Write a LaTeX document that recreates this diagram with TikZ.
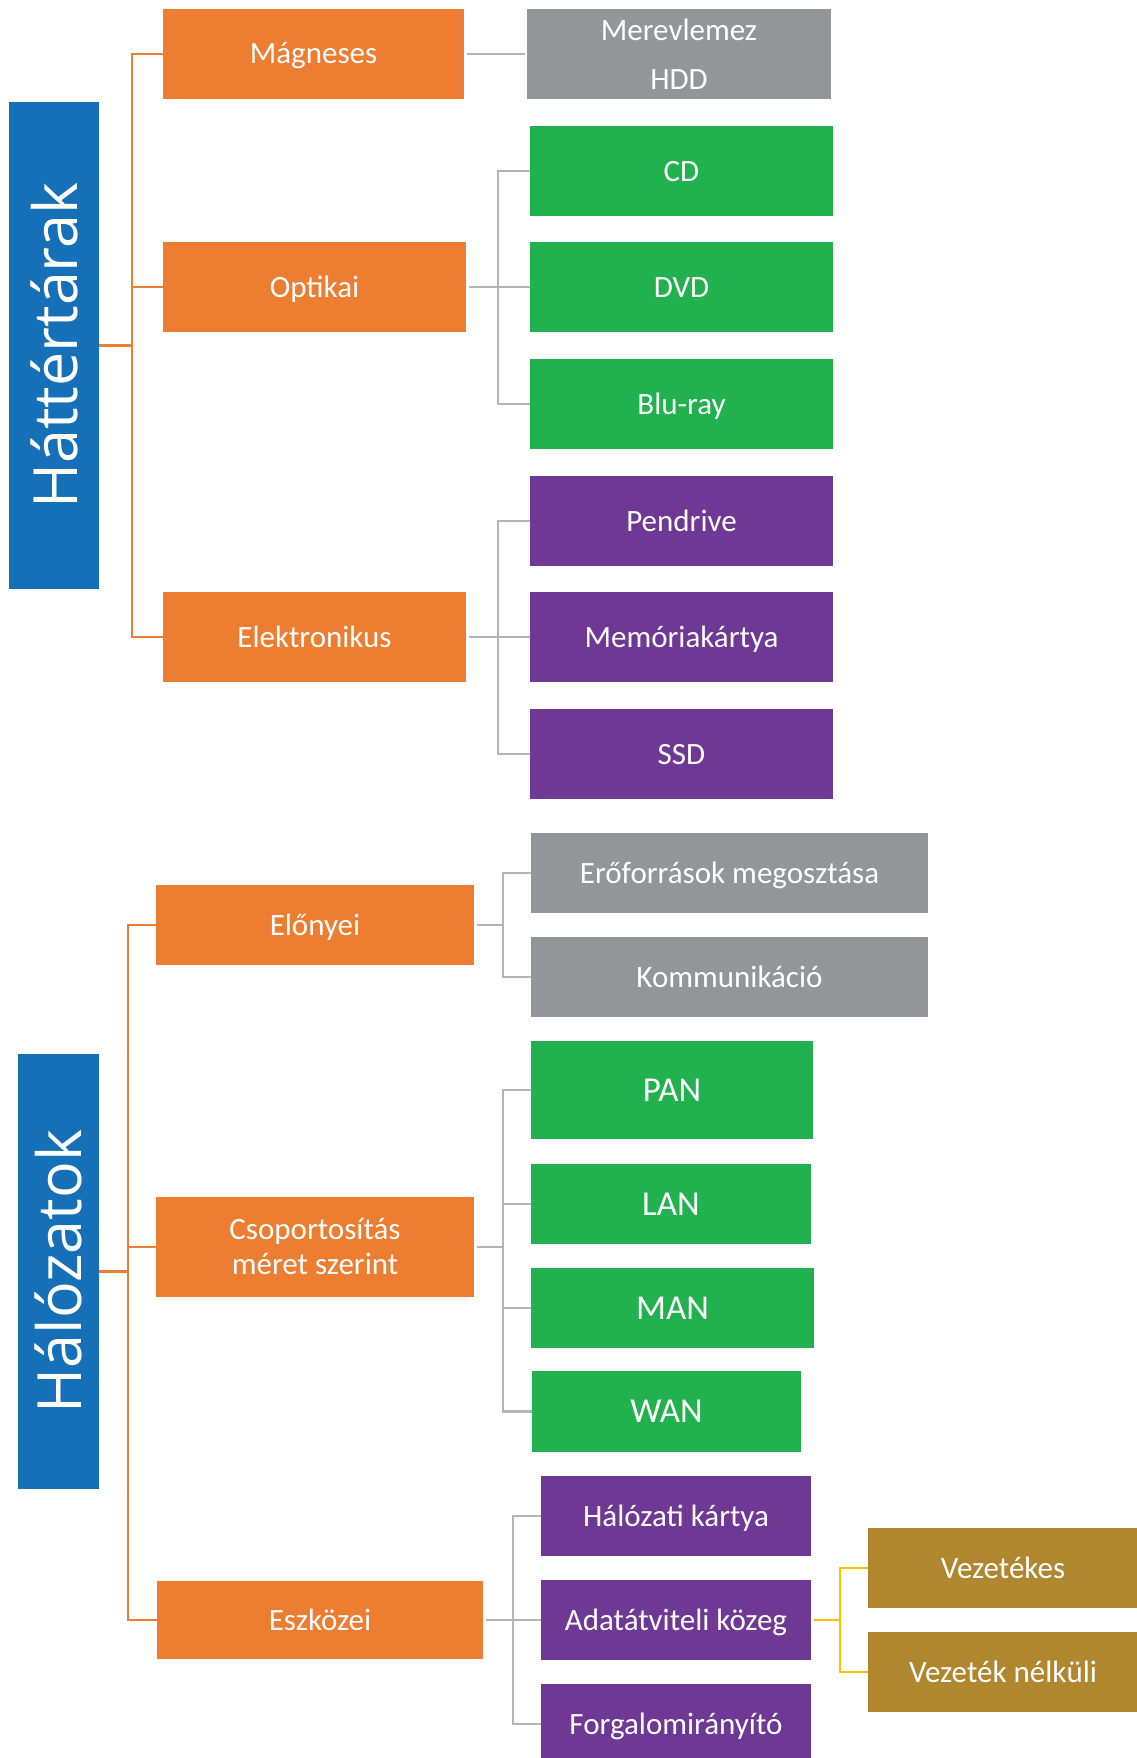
\documentclass[tikz,border=0pt]{standalone}
\usepackage{fontspec}
\setmainfont{Carlito}
\newfontfamily\vfont{Open Sans}
\definecolor{cOrange}{HTML}{ED7D31}
\definecolor{cGray}{HTML}{939598}
\definecolor{cGreen}{HTML}{21B14F}
\definecolor{cPurple}{HTML}{6F3894}
\definecolor{cBlue}{HTML}{1570B8}
\definecolor{cGold}{HTML}{B0872E}
\definecolor{cLine}{HTML}{B4B4B6}
\definecolor{cYellow}{HTML}{FFC000}
\tikzset{
  box/.style={rectangle, inner sep=0pt, text=white,
    font=\fontsize{31}{37}\selectfont, text height=20pt, text depth=0pt},
  multibox/.style={rectangle, inner sep=0pt, text=white, align=center},
  bigbox/.style={box, font=\fontsize{35}{42}\selectfont, text height=22.5pt},
  vbox/.style={rectangle, inner sep=0pt, fill=cBlue, text=white},
  oline/.style={draw=cOrange, line width=2.6pt},
  gline/.style={draw=cLine, line width=2.8pt},
  yline/.style={draw=cYellow, line width=2.8pt},
}
\begin{document}
\begin{tikzpicture}[x=1pt,y=-1pt]
\useasboundingbox (0,0) rectangle (1137,1758);
\clip (0,0) rectangle (1137,1758);
% --- Háttértárak ---
\node[vbox, minimum width=90, minimum height=487] (bt) at (54,345.5) {};
\node[text=white, rotate=90, font=\vfont\fontsize{61}{70}\selectfont] (btt) at (bt.center) {Háttértárak};
\node[box, fill=cOrange, minimum width=301, minimum height=90] (mag) at (313.5,54) {Mágneses};
\node[box, fill=cOrange, minimum width=303, minimum height=90] (opt) at (314.5,287) {Optikai};
\node[box, fill=cOrange, minimum width=303, minimum height=90] (ele) at (314.5,637) {Elektronikus};
\node[multibox, fill=cGray, minimum width=304, minimum height=90, font=\fontsize{31}{49}\selectfont] (hdd) at (679,54) {Merevlemez\\HDD};
\node[box, fill=cGreen, minimum width=303, minimum height=90] (cd) at (681.5,171) {CD};
\node[box, fill=cGreen, minimum width=303, minimum height=90] (dvd) at (681.5,287) {DVD};
\node[box, fill=cGreen, minimum width=303, minimum height=90] (blu) at (681.5,404) {Blu-ray};
\node[box, fill=cPurple, minimum width=303, minimum height=90] (pen) at (681.5,521) {Pendrive};
\node[box, fill=cPurple, minimum width=303, minimum height=90] (mem) at (681.5,637) {Memóriakártya};
\node[box, fill=cPurple, minimum width=303, minimum height=90] (ssd) at (681.5,754) {SSD};
% connectors
\coordinate (s1) at (132,0);
\coordinate (s2) at (498,0);
\draw[oline] (mag.west) -- (mag.west -| s1) |- (ele.west);
\draw[oline] (opt.west) -- (opt.west -| s1);
\draw[oline] (bt.east) -- (bt.east -| s1);
\draw[gline] ([xshift=3]mag.east) -- ([xshift=-2]hdd.west);
\draw[gline] (cd.west) -- (cd.west -| s2) |- (blu.west);
\draw[gline] ([xshift=3]opt.east) -- (dvd.west);
\draw[gline] (pen.west) -- (pen.west -| s2) |- (ssd.west);
\draw[gline] ([xshift=3]ele.east) -- (mem.west);
% --- Hálózatok ---
\node[vbox, minimum width=81, minimum height=435] (hal) at (58.5,1271.5) {};
\node[text=white, rotate=90, font=\vfont\fontsize{61}{70}\selectfont] (halt) at (hal.center) {Hálózatok};
\node[box, fill=cOrange, minimum width=318, minimum height=80] (elo) at (315,925) {Előnyei};
\node[multibox, fill=cOrange, minimum width=318, minimum height=100, font=\fontsize{31}{35}\selectfont] (cso) at (315,1247) {Csoportosítás\\méret szerint};
\node[box, fill=cOrange, minimum width=326, minimum height=78] (esz) at (320,1620) {Eszközei};
\node[box, fill=cGray, minimum width=397, minimum height=80] (ero) at (729.5,873) {Erőforrások megosztása};
\node[box, fill=cGray, minimum width=397, minimum height=80] (kom) at (729.5,977) {Kommunikáció};
\node[bigbox, fill=cGreen, minimum width=282, minimum height=98] (pan) at (672,1090) {PAN};
\node[bigbox, fill=cGreen, minimum width=280, minimum height=80] (lan) at (671,1204) {LAN};
\node[bigbox, fill=cGreen, minimum width=283, minimum height=80] (man) at (672.5,1308) {MAN};
\node[bigbox, fill=cGreen, minimum width=269, minimum height=81] (wan) at (666.5,1411.5) {WAN};
\node[box, fill=cPurple, minimum width=270, minimum height=80] (hk) at (676,1516) {Hálózati kártya};
\node[box, fill=cPurple, minimum width=270, minimum height=80] (ada) at (676,1620) {Adatátviteli közeg};
\node[box, fill=cPurple, minimum width=270, minimum height=80] (for) at (676,1724) {Forgalomirányító};
\node[box, fill=cGold, minimum width=270, minimum height=80] (vez) at (1003,1568) {Vezetékes};
\node[box, fill=cGold, minimum width=270, minimum height=80] (vn) at (1003,1672) {Vezeték nélküli};
% connectors
\coordinate (s3) at (128,0);
\coordinate (s4) at (503,0);
\coordinate (s5) at (513,0);
\coordinate (s6) at (840,0);
\draw[oline] (elo.west) -- (elo.west -| s3) |- (esz.west);
\draw[oline] (cso.west) -- (cso.west -| s3);
\draw[oline] (hal.east) -- (hal.east -| s3);
\draw[gline] (ero.west) -- (ero.west -| s4) |- (kom.west);
\draw[gline] ([xshift=3]elo.east) -- (elo.east -| s4);
\draw[gline] (pan.west) -- (pan.west -| s4) |- (wan.west);
\draw[gline] (lan.west) -- (lan.west -| s4);
\draw[gline] (man.west) -- (man.west -| s4);
\draw[gline] ([xshift=3]cso.east) -- (cso.east -| s4);
\draw[gline] (hk.west) -- (hk.west -| s5) |- (for.west);
\draw[gline] ([xshift=3]esz.east) -- (ada.west);
\draw[yline] (vez.west) -- (vez.west -| s6) |- (vn.west);
\draw[yline] ([xshift=3]ada.east) -- (ada.east -| s6);
\end{tikzpicture}
\end{document}
